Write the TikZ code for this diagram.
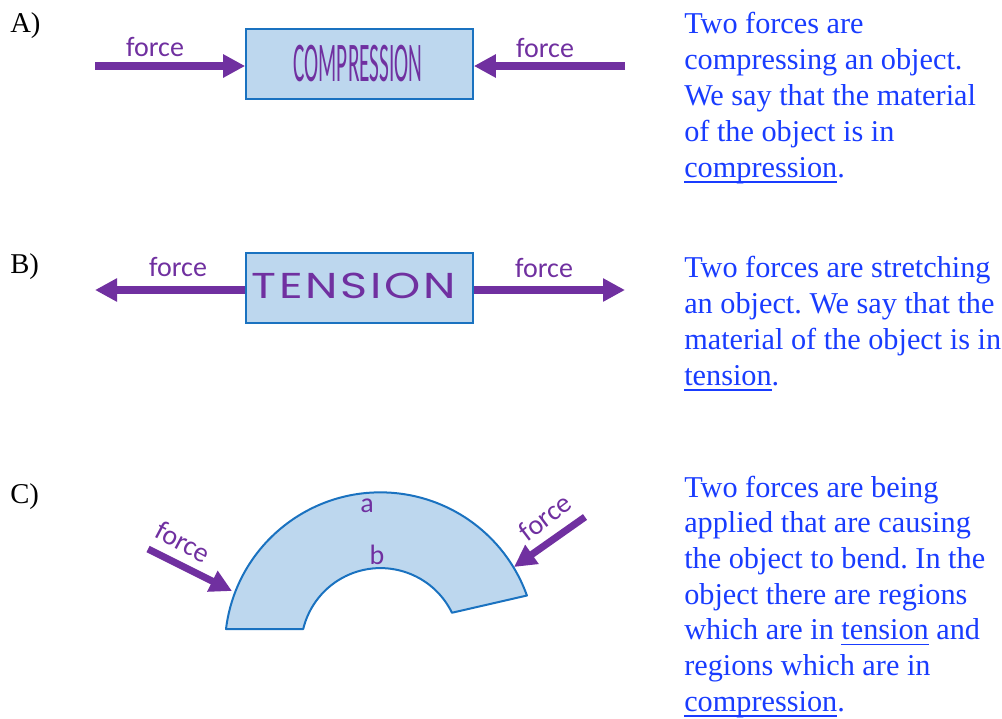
\documentclass[tikz,border=0pt]{standalone}
\usepackage{fontspec}
\setmainfont{Liberation Serif}
\newfontfamily\calfont{Carlito}
\newfontfamily\geofont[LetterSpace=6]{Poppins}
\usetikzlibrary{arrows.meta,calc}
\definecolor{fpurple}{HTML}{7030A0}
\definecolor{boxfill}{HTML}{BDD7EE}
\definecolor{boxline}{HTML}{1A72C0}
\definecolor{txtblue}{RGB}{25,60,255}
\frenchspacing
\newcommand\myul[1]{\leavevmode\setbox0\hbox{#1}\rlap{\rule[-4.2pt]{\wd0}{1.3pt}}\box0\relax}
\tikzset{
  x=0.75pt, y=0.75pt,
  lab/.style={font=\fontsize{21.5}{24}\selectfont, inner sep=0pt, anchor=base west},
  bigbox/.style={draw=boxline, line width=1.5pt, fill=boxfill, minimum width=170pt, minimum height=53pt, inner sep=0pt},
  farrow/.style={draw=fpurple, line width=5.3pt, -{Triangle[length=16.5pt, width=16.5pt]}},
  flabel/.style={text=fpurple, font=\calfont\fontsize{21}{24}\selectfont, inner sep=0pt},
  para/.style={text=txtblue, anchor=base west, inner sep=0pt, font=\fontsize{22.7}{27}\selectfont},
}
\begin{document}
\begin{tikzpicture}
\useasboundingbox (0,0) rectangle (1002,-718);
% labels
\node[lab] (labA) at (10,-32) {A)};
\node[lab] (labB) at (10,-273) {B)};
\node[lab] (labC) at (10,-503) {C)};

% A
\node[bigbox] (boxA) at (359.5,-64) {};
\node[text=fpurple, font=\calfont\fontsize{42}{44}\selectfont, inner sep=0pt] (tA) at (358,-64) {\scalebox{0.38}[1]{COMPRESSION}};
\coordinate (aL) at (95,-66);
\coordinate (aR) at (625,-66);
\draw[farrow] (aL) -- (aL -| boxA.west);
\draw[farrow] (aR) -- (aR -| boxA.east);
\node[flabel] (fA1) at (155,-47) {force};
\node[flabel] (fA2) at (545,-48) {force};

% B
\node[bigbox] (boxB) at (359.5,-288) {};
\node[text=fpurple, font=\geofont\fontsize{27}{30}\selectfont, inner sep=0pt] (tB) at (354,-285.5) {\scalebox{1.28}[1]{TENSION}};
\coordinate (bL) at (95,-290);
\coordinate (bR) at (625,-290);
\draw[farrow] (bL -| boxB.west) -- (bL);
\draw[farrow] (bR -| boxB.east) -- (bR);
\node[flabel] (fB1) at (178,-267) {force};
\node[flabel] (fB2) at (544,-268) {force};

% C
\coordinate (cc) at (380.5,-647.6);
\draw[draw=boxline, line width=1.5pt, fill=boxfill, line join=round]
  (226,-629) arc[start angle=173, end angle=19.7, radius=155.6]
  -- ($(cc)+(26:79.5)$) arc[start angle=26, end angle=166.5, radius=79.5] -- cycle;
\node[flabel] (la) at (367,-506) {a};
\node[flabel] (lb) at (377,-555) {b};
\coordinate (c1t) at (148,-549);
\coordinate (c1h) at (232,-591);
\coordinate (c2t) at (585,-517);
\coordinate (c2h) at (514,-567);
\draw[farrow] (c1t) -- (c1h);
\draw[farrow] (c2t) -- (c2h);
\node[flabel, rotate=-28] (fC1) at (183,-542) {force};
\node[flabel, rotate=37] (fC2) at (545,-517) {force};

% text
\node[para] (pA) at (684,-33) {\begin{tabular}[t]{@{}l@{}}Two forces are\\compressing an object.\\We say that the material\\of the object is in\\\myul{compression}.\end{tabular}};
\node[para] (pB) at (684,-277) {\begin{tabular}[t]{@{}l@{}}Two forces are stretching\\an object. We say that the\\material of the object is in\\\myul{tension}.\end{tabular}};
\node[para, font=\fontsize{22.7}{26.75}\selectfont] (pC) at (684,-497) {\begin{tabular}[t]{@{}l@{}}Two forces are being\\applied that are causing\\the object to bend. In the\\object there are regions\\which are in \myul{tension} and\\regions which are in\\\myul{compression}.\end{tabular}};
\end{tikzpicture}
\end{document}
